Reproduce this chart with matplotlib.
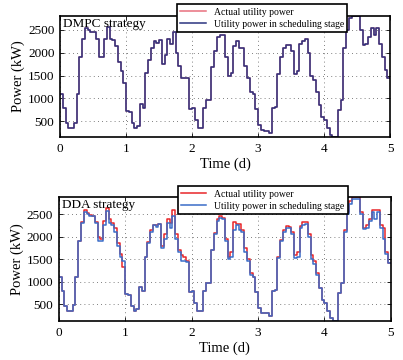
import numpy as np
import matplotlib
matplotlib.use("Agg")
import matplotlib.pyplot as plt

plt.rcParams['font.family'] = ['Liberation Serif', 'DejaVu Serif']
plt.rcParams['mathtext.fontset'] = 'stix'

# hourly utility power (kW), 5 days x 24 h
dmpc_sched = [
    1100, 780, 450, 340, 340, 470, 1100, 1900, 2300, 2550, 2500, 2450,
    2450, 2300, 1900, 1900, 2300, 2560, 2300, 2280, 2150, 1800, 1600, 1330,
    720, 700, 450, 340, 400, 880, 780, 1550, 1850, 2100, 2250, 2220,
    2270, 1750, 1950, 2300, 2200, 2450, 2000, 1700, 1450, 1450, 1440, 770,
    780, 520, 345, 345, 790, 960, 960, 1690, 2050, 2350, 2400, 2400,
    1900, 1500, 1550, 2150, 2250, 2100, 2100, 1700, 1450, 1150, 1100, 760,
    420, 300, 290, 290, 235, 780, 820, 1530, 1900, 2100, 2180, 2180,
    2050, 1530, 1600, 2200, 2250, 2300, 2000, 1500, 1400, 1150, 850, 600,
    520, 345, 190, 150, 150, 740, 960, 2100, 2500, 2760, 2800, 2800,
    2800, 2500, 2170, 2200, 2350, 2550, 2400, 2550, 2200, 1900, 1620, 1450,
]
dmpc_actual = list(dmpc_sched)

dda_sched = [
    1100, 780, 450, 340, 340, 470, 1100, 1900, 2300, 2550, 2500, 2450,
    2450, 2300, 1900, 1900, 2250, 2560, 2300, 2250, 2100, 1800, 1550, 1450,
    720, 700, 450, 340, 400, 880, 780, 1550, 1850, 2100, 2250, 2220,
    2270, 1750, 1950, 2300, 2200, 2450, 1950, 1650, 1450, 1450, 1440, 770,
    780, 520, 345, 345, 790, 960, 960, 1690, 2050, 2350, 2420, 2400,
    1900, 1500, 1550, 2150, 2250, 2150, 2100, 1650, 1450, 1150, 1100, 760,
    420, 300, 290, 290, 235, 780, 820, 1530, 1900, 2100, 2180, 2200,
    2050, 1530, 1550, 2200, 2250, 2280, 2000, 1500, 1400, 1150, 850, 600,
    520, 345, 190, 120, 120, 740, 960, 2100, 2500, 2720, 2830, 2830,
    2830, 2500, 2170, 2200, 2350, 2550, 2400, 2550, 2200, 1950, 1620, 1420,
]
dda_actual = [
    1100, 780, 450, 340, 340, 470, 1100, 1900, 2330, 2580, 2520, 2470,
    2450, 2330, 2000, 1950, 2350, 2640, 2380, 2300, 2200, 1850, 1620, 1330,
    720, 700, 450, 340, 400, 880, 780, 1550, 1880, 2150, 2260, 2250,
    2280, 1800, 2050, 2380, 2300, 2600, 2050, 1700, 1600, 1550, 1450, 770,
    780, 520, 345, 345, 790, 960, 960, 1700, 2080, 2380, 2450, 2420,
    1950, 1550, 1650, 2330, 2280, 2280, 2150, 1750, 1500, 1200, 1100, 760,
    420, 300, 290, 290, 235, 780, 820, 1550, 1920, 2150, 2230, 2220,
    2100, 1580, 1650, 2230, 2330, 2330, 2050, 1600, 1450, 1200, 850, 600,
    520, 345, 190, 120, 120, 740, 960, 2150, 2550, 2800, 2880, 2880,
    2880, 2550, 2200, 2250, 2400, 2600, 2580, 2580, 2250, 2200, 1650, 1420,
]

t = np.arange(121) / 24.0
xticks = [0, 1, 2, 3, 4, 5]
yticks = [500, 1000, 1500, 2000, 2500]

panels = [
    ("DMPC strategy", dmpc_actual, dmpc_sched, '#e8707f', '#2b3480', (150, 2810),
     [0.149, 0.619, 0.819, 0.337], (0.87, 1.095)),
    ("DDA strategy", dda_actual, dda_sched, '#e8262a', '#3a6cc8', (120, 2880),
     [0.146, 0.108, 0.824, 0.345], (0.87, 1.085)),
]

fig = plt.figure(figsize=(4.03, 3.6), dpi=100)

for title, actual, sched, c_act, c_sch, ylim, rect, anchor in panels:
    ax = fig.add_axes(rect)
    ya = np.append(actual, actual[-1])
    ys = np.append(sched, sched[-1])
    ax.step(t, ya, where='post', color=c_act, lw=1.1, label='Actual utility power')
    ax.step(t, ys, where='post', color=c_sch, lw=1.1,
            label='Utility power in scheduling stage')
    ax.set_xlim(0, 5)
    ax.set_ylim(*ylim)
    ax.set_xticks(xticks)
    ax.set_yticks(yticks)
    ax.grid(True, color='#555555', linestyle=(0, (1, 4)), lw=0.6)
    ax.tick_params(direction='in', top=True, right=True, labelsize=9.5,
                   length=3, width=0.6, pad=4)
    for s in ax.spines.values():
        s.set_linewidth(1.2)
    ax.set_xlabel('Time (d)', fontsize=10.5, labelpad=2)
    ax.set_ylabel('Power (kW)', fontsize=10.5, labelpad=2)
    ax.text(0.01, 0.985, title, transform=ax.transAxes, fontsize=9.5,
            va='top', ha='left')
    leg = ax.legend(loc='upper right', bbox_to_anchor=anchor, fontsize=7,
                    frameon=True, fancybox=False, framealpha=1,
                    edgecolor='black', handlelength=2.6, borderpad=0.35,
                    labelspacing=0.3, handletextpad=0.8, borderaxespad=0)
    leg.get_frame().set_linewidth(1.2)

fig.savefig('out.png', dpi=100)
